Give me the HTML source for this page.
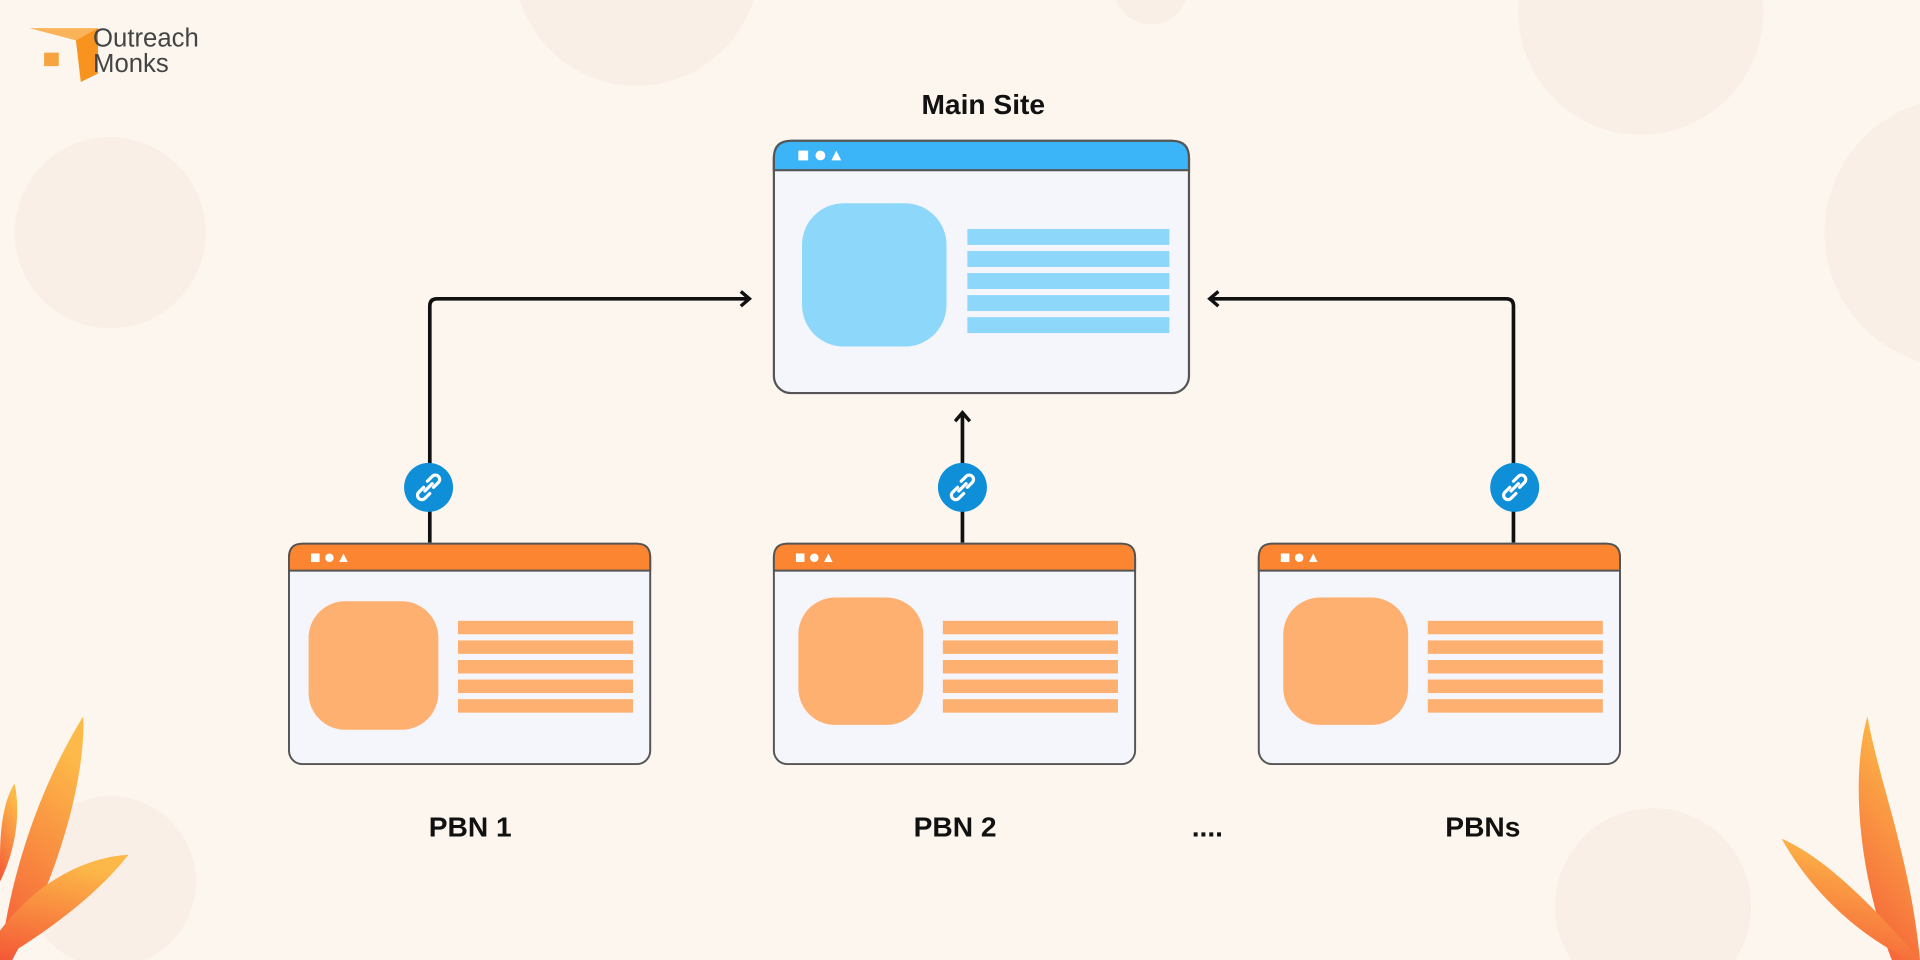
<!DOCTYPE html>
<html><head><meta charset="utf-8"><style>
html,body{margin:0;padding:0;background:#fcf6ef;}
svg{display:block}
text{font-family:"Liberation Sans",sans-serif;font-weight:bold;fill:#111}
</style></head><body>
<svg width="1920" height="960" viewBox="0 0 1568 784" xmlns="http://www.w3.org/2000/svg">
<defs>
<marker id="ah" markerWidth="14" markerHeight="14" refX="9" refY="7" orient="auto" markerUnits="userSpaceOnUse">
<path d="M2,1 L9,7 L2,13" fill="none" stroke="#111" stroke-width="2.8"/>
</marker>
<linearGradient id="lf" x1="0" y1="1" x2="0.3" y2="0"><stop offset="0" stop-color="#f4502e"/><stop offset="1" stop-color="#fdb640"/></linearGradient>
</defs>
<rect width="1568" height="784" fill="#fcf6ef"/>
<g fill="#f9efe6">
<circle cx="520" cy="-30" r="100"/>
<circle cx="1340" cy="10" r="100"/>
<circle cx="90" cy="190" r="78"/>
<circle cx="1600" cy="190" r="110"/>
<circle cx="1350" cy="740" r="80"/>
<circle cx="90" cy="720" r="70"/>
<circle cx="940" cy="-10" r="30"/>
</g>
<!-- logo -->
<path d="M24,23 L80,23 L80,33 L62,33 Z" fill="#fbb35a"/>
<path d="M62,33 L80,23 L80,60 L66,67 Z" fill="#f7931e"/>
<rect x="36" y="43" width="12" height="11" fill="#f7a440"/>
<text x="76" y="38" font-size="21" style="font-weight:normal;fill:#444">Outreach</text>
<text x="76" y="59" font-size="21" style="font-weight:normal;fill:#444">Monks</text>
<!-- leaves -->
<g fill="url(#lf)" opacity="0.95">
<path d="M0,784 C10,700 40,630 68,585 C70,640 45,720 10,784 Z"/>
<path d="M0,760 C30,720 70,700 105,698 C80,730 40,760 0,784 Z"/>
<path d="M0,700 C0,670 5,650 12,640 C18,670 10,700 0,720 Z"/>
<path d="M1568,784 C1560,700 1535,640 1525,585 C1510,640 1520,720 1545,784 Z"/>
<path d="M1568,784 C1530,740 1490,700 1455,685 C1480,730 1520,765 1560,784 Z"/>
</g>
<!-- connectors -->
<g fill="none" stroke="#111" stroke-width="3">
<path d="M351,443 L351,250 Q351,244 357,244 L612,244" marker-end="url(#ah)"/>
<path d="M1236,443 L1236,250 Q1236,244 1230,244 L988,244" marker-end="url(#ah)"/>
<path d="M786,443 L786,337" marker-end="url(#ah)"/>
</g>
<!-- link icons -->
<g>
<circle cx="350" cy="398" r="20" fill="#0e8fd8"/>
<circle cx="786" cy="398" r="20" fill="#0e8fd8"/>
<circle cx="1237" cy="398" r="20" fill="#0e8fd8"/>
<g fill="none" stroke="#fff" stroke-width="2.6" stroke-linecap="round">
<path d="M346,398 l-4,4 a3.5,3.5 0 0 0 5,5 l4,-4 M354,398 l4,-4 a3.5,3.5 0 0 0 -5,-5 l-4,4 M347,401 l6,-6"/>
<path d="M782,398 l-4,4 a3.5,3.5 0 0 0 5,5 l4,-4 M790,398 l4,-4 a3.5,3.5 0 0 0 -5,-5 l-4,4 M783,401 l6,-6"/>
<path d="M1233,398 l-4,4 a3.5,3.5 0 0 0 5,5 l4,-4 M1241,398 l4,-4 a3.5,3.5 0 0 0 -5,-5 l-4,4 M1234,401 l6,-6"/>
</g>
</g>
<!-- main site -->
<g>
<rect x="632" y="115" width="339" height="206" rx="14" fill="#f5f5fc" stroke="#555" stroke-width="1.8"/>
<path d="M646,115 L957,115 Q971,115 971,129 L971,139 L632,139 L632,129 Q632,115 646,115 Z" fill="#3bb4f8" stroke="#555" stroke-width="1.8"/>
<rect x="652" y="123" width="8" height="8" fill="#fff"/><circle cx="670" cy="127" r="4" fill="#fff"/><path d="M679,131 L683,123 L687,131 Z" fill="#fff"/>
<rect x="655" y="166" width="118" height="117" rx="34" fill="#8dd7fb"/>
<g fill="#8dd7fb"><rect x="790" y="187" width="165" height="13"/><rect x="790" y="205" width="165" height="13"/><rect x="790" y="223" width="165" height="13"/><rect x="790" y="241" width="165" height="13"/><rect x="790" y="259" width="165" height="13"/></g>
</g>
<!-- PBN boxes -->
<g id="p1">
<rect x="236" y="444" width="295" height="180" rx="11" fill="#f5f5fc" stroke="#555" stroke-width="1.6"/>
<path d="M247,444 L520,444 Q531,444 531,455 L531,466 L236,466 L236,455 Q236,444 247,444 Z" fill="#fb8530" stroke="#555" stroke-width="1.6"/>
<rect x="254" y="452" width="7" height="7" fill="#fff"/><circle cx="269" cy="455.5" r="3.5" fill="#fff"/><path d="M277,459 L280.5,452 L284,459 Z" fill="#fff"/>
<rect x="252" y="491" width="106" height="105" rx="30" fill="#fdb070"/>
<g fill="#fdb070"><rect x="374" y="507" width="143" height="11"/><rect x="374" y="523" width="143" height="11"/><rect x="374" y="539" width="143" height="11"/><rect x="374" y="555" width="143" height="11"/><rect x="374" y="571" width="143" height="11"/></g>
</g>
<g transform="translate(396,0)">
<rect x="236" y="444" width="295" height="180" rx="11" fill="#f5f5fc" stroke="#555" stroke-width="1.6"/>
<path d="M247,444 L520,444 Q531,444 531,455 L531,466 L236,466 L236,455 Q236,444 247,444 Z" fill="#fb8530" stroke="#555" stroke-width="1.6"/>
<rect x="254" y="452" width="7" height="7" fill="#fff"/><circle cx="269" cy="455.5" r="3.5" fill="#fff"/><path d="M277,459 L280.5,452 L284,459 Z" fill="#fff"/>
<rect x="256" y="488" width="102" height="104" rx="30" fill="#fdb070"/>
<g fill="#fdb070"><rect x="374" y="507" width="143" height="11"/><rect x="374" y="523" width="143" height="11"/><rect x="374" y="539" width="143" height="11"/><rect x="374" y="555" width="143" height="11"/><rect x="374" y="571" width="143" height="11"/></g>
</g>
<g transform="translate(792,0)">
<rect x="236" y="444" width="295" height="180" rx="11" fill="#f5f5fc" stroke="#555" stroke-width="1.6"/>
<path d="M247,444 L520,444 Q531,444 531,455 L531,466 L236,466 L236,455 Q236,444 247,444 Z" fill="#fb8530" stroke="#555" stroke-width="1.6"/>
<rect x="254" y="452" width="7" height="7" fill="#fff"/><circle cx="269" cy="455.5" r="3.5" fill="#fff"/><path d="M277,459 L280.5,452 L284,459 Z" fill="#fff"/>
<rect x="256" y="488" width="102" height="104" rx="30" fill="#fdb070"/>
<g fill="#fdb070"><rect x="374" y="507" width="143" height="11"/><rect x="374" y="523" width="143" height="11"/><rect x="374" y="539" width="143" height="11"/><rect x="374" y="555" width="143" height="11"/><rect x="374" y="571" width="143" height="11"/></g>
</g>
<!-- labels -->
<text x="803" y="93" font-size="23" text-anchor="middle">Main Site</text>
<text x="384" y="683" font-size="23" text-anchor="middle">PBN 1</text>
<text x="780" y="683" font-size="23" text-anchor="middle">PBN 2</text>
<text x="986" y="683" font-size="23" text-anchor="middle">....</text>
<text x="1211" y="683" font-size="23" text-anchor="middle">PBNs</text>
</svg>
</body></html>
